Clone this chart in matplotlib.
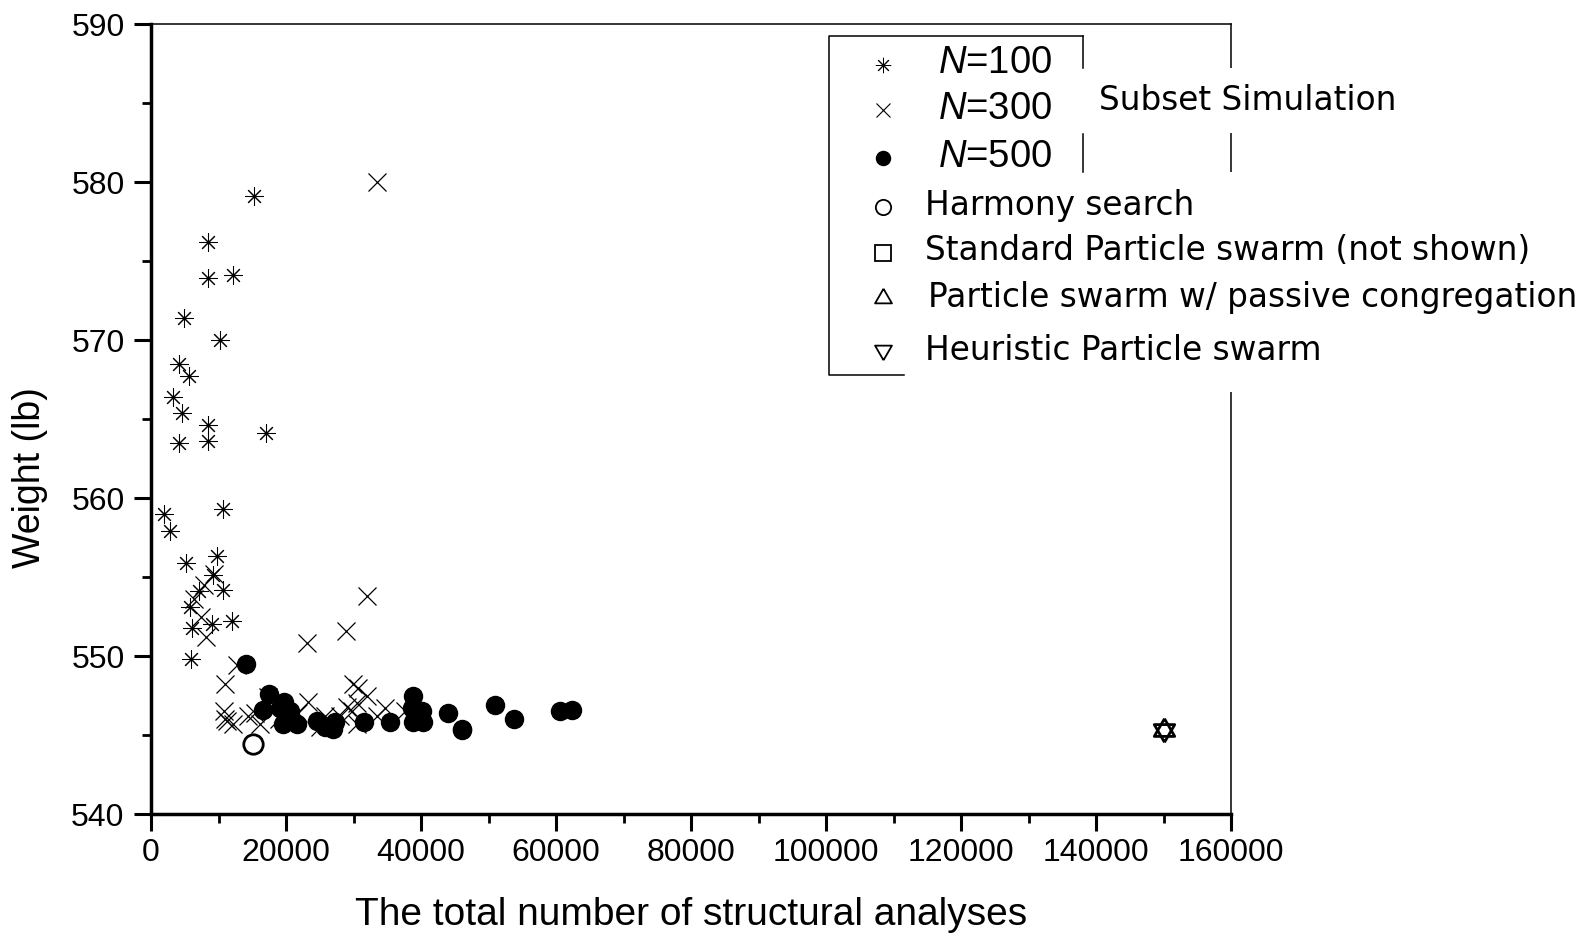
import matplotlib
matplotlib.use("Agg")
import matplotlib.pyplot as plt
from matplotlib.lines import Line2D
from matplotlib.patches import Rectangle

plt.rcParams["font.family"] = ["Liberation Sans", "DejaVu Sans"]
plt.rcParams["mathtext.fontset"] = "custom"
plt.rcParams["mathtext.it"] = "Liberation Sans:italic"
plt.rcParams["mathtext.rm"] = "Liberation Sans"

# Subset Simulation, N=100
x100 = [15260, 8490, 8490, 12100, 4890, 10220, 4190, 5630, 3210, 4540, 8390, 8390,
        4190, 16990, 1926, 2815, 10720, 5190, 9730, 9230, 7160, 10620, 5780, 6030,
        8990, 11950, 5880]
y100 = [579.1, 576.2, 573.9, 574.1, 571.4, 570.0, 568.5, 567.7, 566.4, 565.4, 564.6, 563.6,
        563.5, 564.1, 559.0, 557.9, 559.3, 555.9, 556.3, 555.1, 554.1, 554.2, 553.1, 551.8,
        552.0, 552.2, 549.8]

# Subset Simulation, N=300
x300 = [33430, 32050, 28890, 23160, 7850, 7410, 8100, 6400, 12690, 10960, 10770, 10960,
        11260, 12200, 15410, 16150, 14420, 17380, 23310, 21820, 25780, 25040, 29970, 30720,
        31950, 29000, 29730, 30470, 28000, 30470, 34660, 33430, 37630, 19000, 9300]
y300 = [580.0, 553.8, 551.6, 550.8, 554.5, 552.5, 551.2, 553.6, 549.4, 548.2, 546.5, 546.0,
        545.9, 545.7, 546.4, 545.7, 546.2, 547.4, 547.1, 546.4, 546.2, 545.5, 548.2, 548.0,
        547.5, 546.8, 546.5, 545.7, 546.2, 547.0, 546.7, 546.2, 546.5, 546.0, 555.2]

# Subset Simulation, N=500
x500 = [14070, 17480, 16540, 19700, 19110, 20590, 19600, 21580, 24640, 25780, 27260, 27010,
        31560, 35410, 38860, 38620, 40100, 38860, 40330, 44040, 46020, 46080, 50960, 53780,
        60590, 62320]
y500 = [549.5, 547.6, 546.6, 547.1, 546.7, 546.5, 545.7, 545.7, 545.9, 545.5, 545.8, 545.4,
        545.8, 545.8, 547.5, 546.7, 546.5, 545.8, 545.8, 546.4, 545.4, 545.3, 546.9, 546.0,
        546.5, 546.6]

x_hs, y_hs = [15060], [544.4]
x_pso_pc, y_pso_pc = [150000], [545.3]
x_hpso, y_hpso = [150000], [545.3]

# equilateral triangles, like the original symbols
tri_up = [(0, 1), (-0.866, -0.5), (0.866, -0.5), (0, 1)]
tri_down = [(0, -1), (-0.866, 0.5), (0.866, 0.5), (0, -1)]

W, H = 1594, 935
fig = plt.figure(figsize=(W / 100, H / 100), dpi=100)
ax = fig.add_axes([151 / W, 1 - 814 / H, (1231 - 151) / W, (814 - 24) / H])

ax.plot(x100, y100, ls="none", marker=(8, 2, 0), ms=13, mew=0.75, color="black", zorder=3)
ax.plot(x300, y300, ls="none", marker="x", ms=13, mew=0.9, color="black", zorder=3)
ax.plot(x500, y500, ls="none", marker="o", ms=13, color="black", zorder=4)
ax.plot(x_hs, y_hs, ls="none", marker="o", ms=14, mfc="white", mec="black", mew=2, zorder=5)
ax.plot(x_pso_pc, y_pso_pc, ls="none", marker=tri_up, ms=17, mfc="none", mec="black", mew=2, zorder=5)
ax.plot(x_hpso, y_hpso, ls="none", marker=tri_down, ms=17, mfc="none", mec="black", mew=2, zorder=5)

ax.set_xlim(0, 160000)
ax.set_ylim(540, 590)
ax.set_xticks(range(0, 160001, 20000))
ax.set_xticks(range(10000, 160000, 20000), minor=True)
ax.set_yticks(range(540, 591, 10))
ax.set_yticks(range(545, 590, 10), minor=True)
ax.tick_params(which="major", direction="out", length=12, width=2.2, labelsize=23)
ax.tick_params(axis="y", which="major", pad=7)
ax.tick_params(axis="x", which="major", pad=5)
ax.tick_params(which="minor", direction="out", length=6.5, width=2)
for s in ["left", "bottom"]:
    ax.spines[s].set_linewidth(2.5)
for s in ["top", "right"]:
    ax.spines[s].set_linewidth(1.1)

fig.text(691 / W, 1 - 915 / H, "The total number of structural analyses",
         fontsize=28, ha="center", va="center")
fig.text(30 / W, 1 - 478 / H, "Weight (lb)", fontsize=27, rotation=90,
         ha="center", va="center", family=["Liberation Sans Narrow", "Liberation Sans"])

# white patches hide the right frame behind the legend text
fig.add_artist(Rectangle((1200 / W, 1 - 133 / H), 60 / W, 65 / H, transform=fig.transFigure,
                         facecolor="white", edgecolor="none", zorder=3))
fig.add_artist(Rectangle((1200 / W, 1 - 392 / H), 60 / W, 220 / H, transform=fig.transFigure,
                         facecolor="white", edgecolor="none", zorder=3))

# legend frame and bracket
def fline(xs, ys):
    fig.add_artist(Line2D([x / W for x in xs], [1 - y / H for y in ys], color="black",
                          lw=1.1, transform=fig.transFigure, zorder=4))

fline([1083, 829, 829, 904], [36, 36, 375, 375])
fline([1083, 1083], [36, 68])
fline([1083, 1083], [134, 172])

handles = [
    ((8, 2, 0), "black", "black", 11, 0.7, 65),
    ("x", "black", "black", 10, 0.8, 110),
    ("o", "black", "black", 10, 1.1, 158),
    ("o", "none", "black", 11, 1.3, 207),
    ("s", "none", "black", 11, 1.3, 253),
    (tri_up, "none", "black", 14, 1.3, 298),
    (tri_down, "none", "black", 14, 1.3, 350),
]
for m, fc, ec, ms, mw, y in handles:
    fig.add_artist(Line2D([883 / W], [1 - y / H], ls="none", marker=m, ms=ms, mfc=fc,
                          mec=ec, mew=mw, transform=fig.transFigure, zorder=5))

for lab, y in [("$N$=100", 63), ("$N$=300", 109), ("$N$=500", 157)]:
    fig.text(938 / W, 1 - y / H, lab, fontsize=27.5, ha="left", va="center")

leg_font = ["DejaVu Sans"]
for lab, x, y in [("Harmony search", 925, 206),
                  ("Standard Particle swarm (not shown)", 925, 251),
                  ("Particle swarm w/ passive congregation", 928, 297),
                  ("Heuristic Particle swarm", 925, 350)]:
    fig.text(x / W, 1 - y / H, lab, fontsize=23.6, family=leg_font, ha="left", va="center")
fig.text(1099 / W, 1 - 101 / H, "Subset Simulation", fontsize=23.6, family=leg_font,
         ha="left", va="center")

fig.savefig("out.png", dpi=100)
